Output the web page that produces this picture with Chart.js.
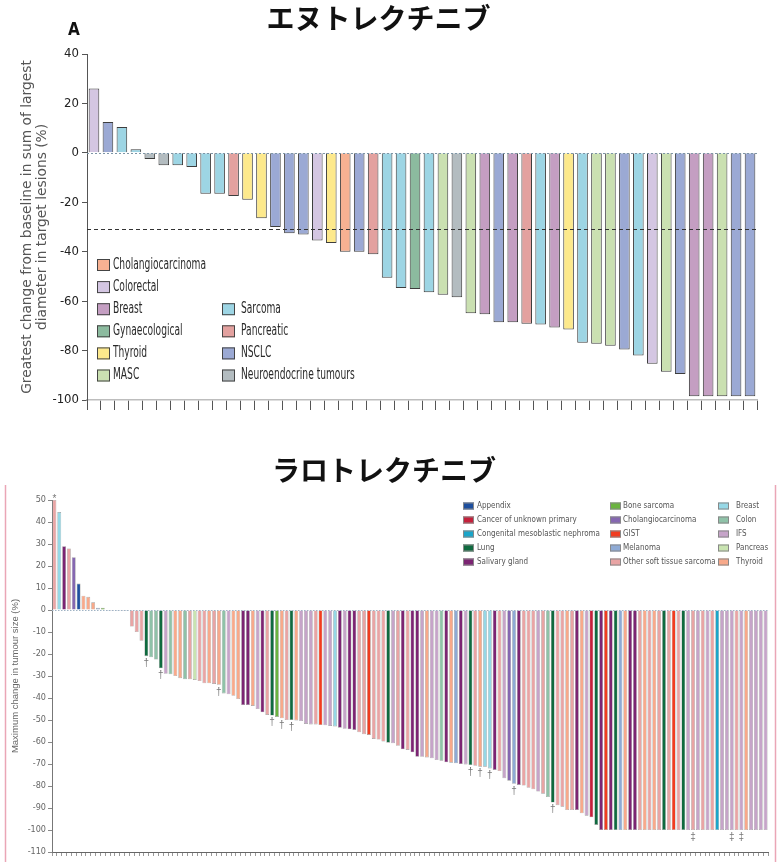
<!DOCTYPE html>
<html>
<head>
<meta charset="utf-8">
<title>Waterfall plots</title>
<script src="https://cdn.jsdelivr.net/npm/chart.js@4.4.1/dist/chart.umd.min.js"></script>
<style>
  body { margin: 0; background: #fff; }
  .panel { position: absolute; left: 0; width: 778px; }
  #panel_top { top: 0; height: 425px; }
  #panel_bot { top: 440px; height: 422px; }
</style>
</head>
<body>
<div class="panel" id="panel_top"><canvas id="entrectinib"></canvas></div>
<div class="panel" id="panel_bot"><canvas id="larotrectinib"></canvas></div>
<script>
// ---- panel A: entrectinib ----
var top_title = 'エヌトレクチニブ';
var top_axis_title = ['Greatest change from baseline in sum of largest',
		      'diameter in target lesions (%)'];
var top_cutoff = -31;

var top_values = [26, 12.5, 10.5, 1.5, -2.5, -5, -5, -5.7, -16.5, -16.5,
		  -17.5, -19, -26.5, -30, -32.5, -33, -35.5, -36.5, -40, -40,
		  -41, -50.5, -54.7, -55.1, -56.4, -57.4, -58.4, -64.9, -65.3, -68.5,
		  -68.5, -69.1, -69.5, -70.7, -71.5, -76.8, -77.2, -78, -79.6, -82,
		  -85.3, -88.6, -89.5, -98.5, -98.5, -98.5, -98.5, -98.5];

var top_types = ['Colorectal', 'NSCLC', 'Sarcoma', 'Sarcoma', 'Neuroendocrine tumours',
		 'Neuroendocrine tumours', 'Sarcoma', 'Sarcoma', 'Sarcoma', 'Sarcoma',
		 'Pancreatic', 'Thyroid', 'Thyroid', 'NSCLC', 'NSCLC',
		 'NSCLC', 'Colorectal', 'Thyroid', 'Cholangiocarcinoma', 'NSCLC',
		 'Pancreatic', 'Sarcoma', 'Sarcoma', 'Gynaecological', 'Sarcoma',
		 'MASC', 'Neuroendocrine tumours', 'MASC', 'Breast', 'NSCLC',
		 'Breast', 'Pancreatic', 'Sarcoma', 'Breast', 'Thyroid',
		 'Sarcoma', 'MASC', 'MASC', 'NSCLC', 'Sarcoma',
		 'Colorectal', 'MASC', 'NSCLC', 'Breast', 'Breast',
		 'MASC', 'NSCLC', 'NSCLC'];

var top_key_left = ['Cholangiocarcinoma', 'Colorectal', 'Breast', 'Gynaecological', 'Thyroid', 'MASC'];
var top_key_right = ['Sarcoma', 'Pancreatic', 'NSCLC', 'Neuroendocrine tumours'];

var top_colours = {
    'Cholangiocarcinoma': '#f7b192',
    'Colorectal': '#d4c6e2',
    'Breast': '#c49ec2',
    'Gynaecological': '#8cbb9f',
    'Thyroid': '#fde98c',
    'MASC': '#cae0b1',
    'Sarcoma': '#9dd5e4',
    'Pancreatic': '#e3a19f',
    'NSCLC': '#9ba9d4',
    'Neuroendocrine tumours': '#b3bcc0'
};

// ---- panel B: larotrectinib ----
var bot_title = 'ラロトレクチニブ';
var bot_axis_title = 'Maximum change in tumour size (%)';

var bot_values = [50, 44.5, 29, 28, 24, 12, 6.5, 6, 3.5, 1,
		  1, -0.5, -0.5, -0.5, -0.5, -0.5, -7.5, -10, -14, -21,
		  -21.5, -22.5, -26.5, -29, -29.2, -30, -31, -31.5, -31.5, -31.8,
		  -32.3, -33.3, -33.3, -33.6, -34, -37.9, -38.3, -39, -40.5, -43.2,
		  -43.2, -43.6, -45, -46.5, -47.7, -48, -48.6, -49.2, -50, -50,
		  -50.2, -50.5, -51.8, -52, -52, -52.3, -52.4, -52.7, -52.9, -53.5,
		  -54, -54.2, -54.5, -55.6, -56.5, -56.8, -58.6, -58.9, -59.8, -60.3,
		  -60.6, -61.7, -63.3, -63.6, -64.7, -66.7, -66.7, -67, -67.4, -68.2,
		  -68.5, -69.2, -69.4, -69.7, -70, -70.2, -70.5, -70.8, -71.2, -71.2,
		  -72, -72.7, -73.2, -76.5, -77.6, -79, -79.5, -79.8, -80.8, -81.5,
		  -82.5, -83.5, -85, -87.5, -88.7, -89.4, -90.9, -90.9, -90.9, -92.4,
		  -93.5, -94.2, -97.7, -100, -100, -100, -100, -100, -100, -100,
		  -100, -100, -100, -100, -100, -100, -100, -100, -100, -100,
		  -100, -100, -100, -100, -100, -100, -100, -100, -100, -100,
		  -100, -100, -100, -100, -100, -100, -100, -100];

var bot_types = ['OST', 'BRE', 'SAL', 'OST', 'CHO', 'APP', 'THY', 'THY', 'THY', 'MEL',
		 'BON', 'MEL', 'IFS', 'MEL', 'IFS', 'MEL', 'OST', 'OST', 'OST', 'LUN',
		 'COL', 'COL', 'LUN', 'IFS', 'COL', 'THY', 'THY', 'COL', 'OST', 'PAN',
		 'OST', 'OST', 'THY', 'OST', 'THY', 'COL', 'IFS', 'THY', 'THY', 'SAL',
		 'SAL', 'THY', 'IFS', 'SAL', 'OST', 'LUN', 'BON', 'THY', 'OST', 'LUN',
		 'THY', 'IFS', 'IFS', 'IFS', 'OST', 'GIS', 'IFS', 'IFS', 'BRE', 'SAL',
		 'IFS', 'SAL', 'SAL', 'OST', 'OST', 'GIS', 'OST', 'OST', 'OST', 'LUN',
		 'IFS', 'OST', 'SAL', 'OST', 'SAL', 'SAL', 'IFS', 'THY', 'IFS', 'IFS',
		 'COL', 'SAL', 'THY', 'MEL', 'SAL', 'IFS', 'LUN', 'OST', 'THY', 'BRE',
		 'BRE', 'SAL', 'OST', 'IFS', 'CHO', 'MEL', 'SAL', 'OST', 'OST', 'OST',
		 'IFS', 'OST', 'COL', 'LUN', 'OST', 'OST', 'THY', 'OST', 'SAL', 'THY',
		 'IFS', 'CUP', 'LUN', 'SAL', 'GIS', 'SAL', 'LUN', 'MEL', 'THY', 'SAL',
		 'SAL', 'OST', 'THY', 'OST', 'THY', 'OST', 'LUN', 'OST', 'GIS', 'OST',
		 'LUN', 'IFS', 'OST', 'IFS', 'OST', 'IFS', 'OST', 'CMN', 'IFS', 'IFS',
		 'IFS', 'OST', 'IFS', 'THY', 'IFS', 'IFS', 'IFS', 'IFS'];

// patient number, footnote symbol
var bot_marks = [[1, '*'], [20, '†'], [23, '†'], [35, '†'], [46, '†'], [48, '†'],
		 [50, '†'], [87, '†'], [89, '†'], [91, '†'], [96, '†'], [104, '†'],
		 [133, '‡'], [141, '‡'], [143, '‡']];

var bot_names = {
    APP: 'Appendix', CUP: 'Cancer of unknown primary',
    CMN: 'Congenital mesoblastic nephroma', LUN: 'Lung', SAL: 'Salivary gland',
    BON: 'Bone sarcoma', CHO: 'Cholangiocarcinoma', GIS: 'GIST',
    MEL: 'Melanoma', OST: 'Other soft tissue sarcoma', BRE: 'Breast',
    COL: 'Colon', IFS: 'IFS', PAN: 'Pancreas', THY: 'Thyroid'
};

var bot_key_cols = [['APP', 'CUP', 'CMN', 'LUN', 'SAL'],
		    ['BON', 'CHO', 'GIS', 'MEL', 'OST'],
		    ['BRE', 'COL', 'IFS', 'PAN', 'THY']];

var bot_colours = {
    APP: '#1d4f9e', CUP: '#c5203b', CMN: '#1aa5c9', LUN: '#0f6a3f',
    SAL: '#7c2473', BON: '#6ab43e', CHO: '#8567b1', GIS: '#f13c1f',
    MEL: '#8eaad5', OST: '#e9a4a4', BRE: '#96d8e6', COL: '#8fc2a8',
    IFS: '#c6a4c9', PAN: '#c9e4b1', THY: '#f8a98a'
};

var NARROW = '"Liberation Sans Narrow", "DejaVu Sans Condensed", "Liberation Sans", sans-serif';
var CJK = '"Noto Sans CJK JP", "Noto Sans CJK SC", sans-serif';

function hline(ctx, x0, x1, y)
{
    var yy = Math.round(y) + 0.5;
    ctx.beginPath();
    ctx.moveTo(x0, yy);
    ctx.lineTo(x1, yy);
    ctx.stroke();
}

function draw_key(ctx, x, y, colour, label, o)
{
    ctx.fillStyle = colour;
    ctx.fillRect(x, y - o.bh / 2, o.bw, o.bh);
    ctx.strokeStyle = o.edge;
    ctx.lineWidth = 1;
    ctx.strokeRect(x + 0.5, y - o.bh / 2 + 0.5, o.bw - 1, o.bh - 1);
    ctx.fillStyle = o.ink;
    ctx.font = o.font;
    ctx.textAlign = 'left';
    ctx.textBaseline = 'middle';
    var w = ctx.measureText(label).width * o.squeeze;
    ctx.fillText(label, x + o.gap, y, w);
}

// squeeze factor so the narrow text takes the width it has in the figure
function squeeze_for(ctx, font, sample, width)
{
    ctx.font = font;
    var w = ctx.measureText(sample).width;
    return Math.min(1, width / w);
}

var entrec_extras = {
    id: 'entrec_extras',
    afterDatasetsDraw: function(chart) {
	var ctx = chart.ctx;
	var area = chart.chartArea;
	var y = chart.scales.y;

	ctx.save();
	ctx.lineWidth = 1;
	ctx.setLineDash([2, 2]);
	ctx.strokeStyle = '#7d95a6';
	hline(ctx, area.left, area.right, y.getPixelForValue(0));
	ctx.setLineDash([4, 3]);
	ctx.strokeStyle = '#333';
	ctx.lineWidth = 1.2;
	hline(ctx, area.left, area.right, y.getPixelForValue(top_cutoff));
	ctx.setLineDash([]);

	ctx.fillStyle = '#111';
	ctx.font = 'bold 17px ' + NARROW;
	ctx.textAlign = 'left';
	ctx.textBaseline = 'alphabetic';
	ctx.fillText('A', 68, 35);

	var font = '15px ' + NARROW;
	var o = { bw: 13, bh: 12, edge: '#444', ink: '#2a2a2a', font: font,
		  squeeze: squeeze_for(ctx, font, 'Cholangiocarcinoma', 93), gap: 16 };
	top_key_left.forEach(function(k, r) {
	    draw_key(ctx, 97, 265 + r * 22.1, top_colours[k], k, o);
	});
	o.gap = 19;
	top_key_right.forEach(function(k, r) {
	    draw_key(ctx, 222, 265 + (r + 2) * 22.1, top_colours[k], k, o);
	});
	ctx.restore();
    }
};

var larot_extras = {
    id: 'larot_extras',
    afterDatasetsDraw: function(chart) {
	var ctx = chart.ctx;
	var area = chart.chartArea;
	var y = chart.scales.y;
	var meta = chart.getDatasetMeta(0);

	ctx.save();
	// frame rules
	ctx.strokeStyle = '#eaa6b6';
	ctx.lineWidth = 1.5;
	ctx.beginPath();
	ctx.moveTo(5.5, 45);
	ctx.lineTo(5.5, chart.height);
	ctx.moveTo(775.5, 45);
	ctx.lineTo(775.5, chart.height);
	ctx.stroke();

	ctx.lineWidth = 1;
	ctx.setLineDash([1.5, 1.5]);
	ctx.strokeStyle = '#9fb3c4';
	hline(ctx, area.left, area.right, y.getPixelForValue(0));
	ctx.setLineDash([]);

	ctx.fillStyle = '#777';
	ctx.font = '10px "Liberation Sans", sans-serif';
	ctx.textAlign = 'center';
	bot_marks.forEach(function(m) {
	    var el = meta.data[m[0] - 1];
	    if (bot_values[m[0] - 1] >= 0) {
		ctx.textBaseline = 'bottom';
		ctx.fillText(m[1], el.x, el.y + 4);
	    } else {
		ctx.textBaseline = 'top';
		ctx.fillText(m[1], el.x, el.y + 2);
	    }
	});

	var font = '9px ' + NARROW;
	var o = { bw: 11, bh: 7, edge: '#888', ink: '#555', font: font,
		  squeeze: squeeze_for(ctx, font, 'Congenital mesoblastic nephroma', 123), gap: 14 };
	var xs = [463, 610, 718];
	var gaps = [14, 13, 18];
	bot_key_cols.forEach(function(col, c) {
	    o.gap = gaps[c];
	    col.forEach(function(k, r) {
		draw_key(ctx, xs[c], 66 + r * 14, bot_colours[k], bot_names[k], o);
	    });
	});
	ctx.restore();
    }
};

new Chart(document.getElementById('entrectinib'), {
    type: 'bar',
    data: {
	labels: top_values.map(function(v, i) { return 'P' + (i + 1); }),
	datasets: [{
	    data: top_values,
	    backgroundColor: top_types.map(function(t) { return top_colours[t]; }),
	    borderColor: '#3d3d3d',
	    borderWidth: 1,
	    barPercentage: 0.76,
	    categoryPercentage: 1
	}]
    },
    options: {
	responsive: true,
	maintainAspectRatio: false,
	animation: false,
	layout: { padding: { left: 0, right: 21, top: 0, bottom: 15 } },
	plugins: {
	    legend: { display: false },
	    tooltip: { enabled: false },
	    title: {
		display: true,
		text: top_title,
		color: '#111',
		font: { family: CJK, size: 28, weight: 'bold', lineHeight: 1.2 },
		padding: { top: 1.2, bottom: 19.2 }
	    }
	},
	scales: {
	    x: {
		grid: { display: true, drawOnChartArea: false, offset: true, tickLength: 10, color: '#555' },
		border: { display: true, color: '#bdbdbd', width: 1.5 },
		ticks: { display: false },
		afterFit: function(s) { s.height = 10; }
	    },
	    y: {
		min: -100,
		max: 40,
		ticks: { stepSize: 20, color: '#222', padding: 3, font: { family: NARROW, size: 13 } },
		grid: { drawOnChartArea: false, tickLength: 5, color: '#555' },
		border: { color: '#555' },
		title: {
		    display: true,
		    text: top_axis_title,
		    color: '#555',
		    font: { family: '"DejaVu Sans", sans-serif', size: 13.8, lineHeight: 1.09 },
		    padding: { top: 19.5, bottom: 0 }
		},
		afterFit: function(s) { s.width = 87; }
	    }
	}
    },
    plugins: [entrec_extras]
});

new Chart(document.getElementById('larotrectinib'), {
    type: 'bar',
    data: {
	labels: bot_values.map(function(v, i) { return 'P' + (i + 1); }),
	datasets: [{
	    data: bot_values,
	    backgroundColor: bot_types.map(function(t) { return bot_colours[t]; }),
	    borderColor: '#9a9a9a',
	    borderWidth: 0.6,
	    barPercentage: 0.8,
	    categoryPercentage: 1
	}]
    },
    options: {
	responsive: true,
	maintainAspectRatio: false,
	animation: false,
	layout: { padding: { left: 0, right: 10, top: 0, bottom: 5 } },
	plugins: {
	    legend: { display: false },
	    tooltip: { enabled: false },
	    title: {
		display: true,
		text: bot_title,
		color: '#111',
		font: { family: CJK, size: 28, weight: 'bold', lineHeight: 1.2 },
		padding: { top: 13.2, bottom: 13.2 }
	    }
	},
	scales: {
	    x: {
		grid: { display: true, drawOnChartArea: false, offset: true, tickLength: 4, color: '#999' },
		border: { display: true, color: '#666', width: 1 },
		ticks: { display: false },
		afterFit: function(s) { s.height = 5; }
	    },
	    y: {
		min: -110,
		max: 50,
		ticks: { stepSize: 10, color: '#666', padding: 2, font: { family: NARROW, size: 9 } },
		grid: { drawOnChartArea: false, tickLength: 4, color: '#888' },
		border: { color: '#777' },
		title: {
		    display: true,
		    text: bot_axis_title,
		    color: '#666',
		    font: { family: '"Liberation Sans", sans-serif', size: 9.5, lineHeight: 1.2 },
		    padding: { top: 10, bottom: 0 }
		},
		afterFit: function(s) { s.width = 52; }
	    }
	}
    },
    plugins: [larot_extras]
});
</script>
</body>
</html>
